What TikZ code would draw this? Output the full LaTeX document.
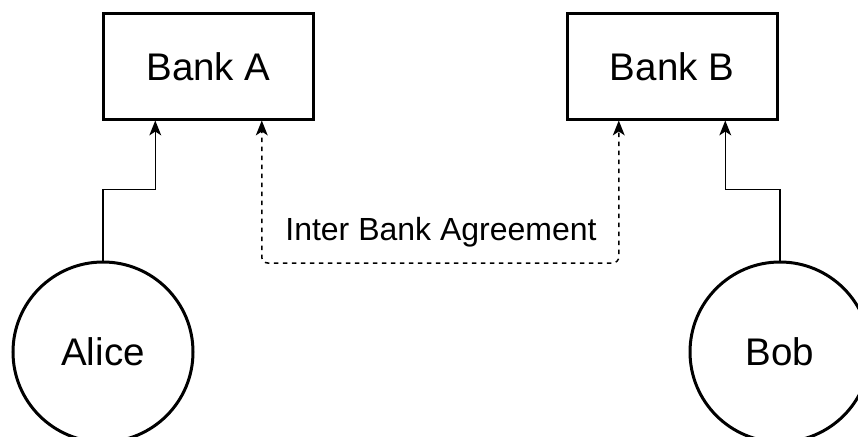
\documentclass[tikz,border=0pt]{standalone}
\usepackage{fontspec}
\setmainfont{Liberation Sans}
\usetikzlibrary{calc}

\tikzset{
  bankbox/.style={draw, line width=3pt, minimum width=210pt, minimum height=105pt,
    inner sep=0pt, font=\fontsize{38.5}{46}\selectfont},
  person/.style={draw, circle, line width=3pt, minimum size=180pt, inner sep=0pt,
    font=\fontsize{38.5}{46}\selectfont},
  link/.style={line width=1.5pt, shorten >=8pt},
  agreement/.style={line width=1.5pt, dash pattern=on 4.5pt off 4.5pt,
    rounded corners=6pt, shorten >=8pt, shorten <=8pt},
  caption/.style={font=\fontsize{32}{38}\selectfont, inner sep=0pt},
  % upward pointing notched arrow head, tip at the pic origin
  pics/uphead/.style={code={
    \fill (0,0) -- (-6pt,-15pt) -- (0,-11pt) -- (6pt,-15pt) -- cycle;}}
}

\begin{document}
\begin{tikzpicture}
  \useasboundingbox (0,0) rectangle (858pt,-436pt);
  \clip (0,0) rectangle (858pt,-436pt);

  % banks and customers
  \node[bankbox] (bankA) at (208.5pt,-66.5pt) {Bank A};
  \node[bankbox] (bankB) at (672pt,-66.5pt) {Bank B};
  \node[person] (alice) at (103pt,-352pt) {Alice};
  \node[person] (bob) at (780pt,-352pt) {Bob};

  % attachment points along the bottom edges of the banks
  \coordinate (aL) at ($(bankA.south west)!0.25!(bankA.south east)$);
  \coordinate (aR) at ($(bankA.south west)!0.75!(bankA.south east)$);
  \coordinate (bL) at ($(bankB.south west)!0.25!(bankB.south east)$);
  \coordinate (bR) at ($(bankB.south west)!0.75!(bankB.south east)$);
  \coordinate (lane) at (0,-263pt);

  % customer accounts
  \draw[link] (alice.north) -- ++(0,71pt) -| (aL);
  \draw[link] (bob.north) -- ++(0,71pt) -| (bR);
  \pic at (aL) {uphead};
  \pic at (bR) {uphead};

  % agreement between the two banks
  \draw[agreement] (aR) -- (aR |- lane) -- (bL |- lane) -- (bL);
  \pic at (aR) {uphead};
  \pic at (bL) {uphead};
  \node[caption, anchor=base] (agree) at (441pt,-240pt) {Inter Bank Agreement};
\end{tikzpicture}
\end{document}
